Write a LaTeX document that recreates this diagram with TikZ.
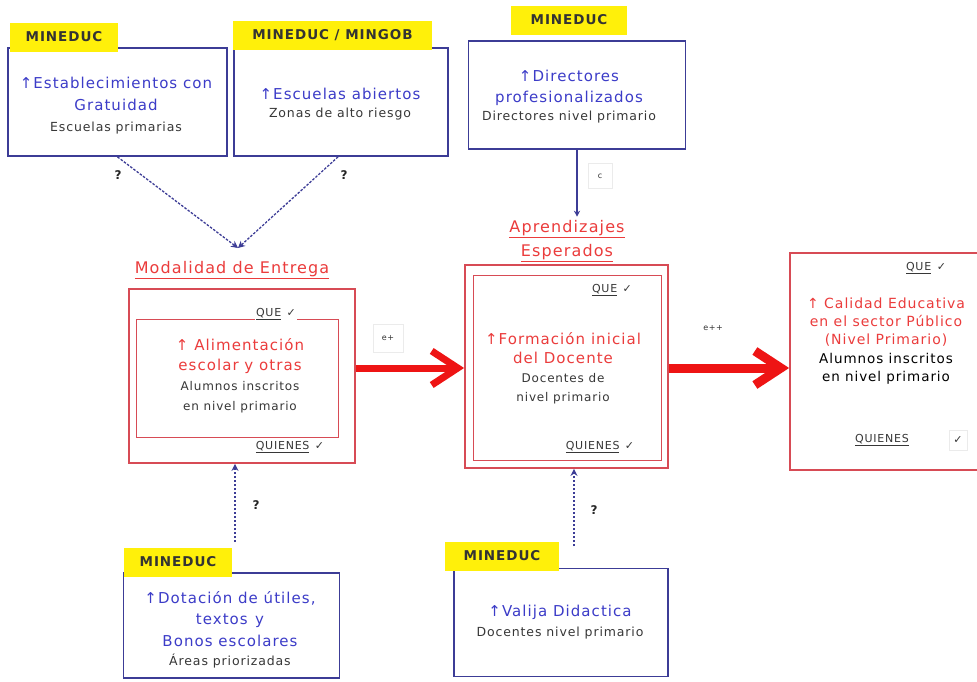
\documentclass[tikz,border=0pt]{standalone}
\usepackage{fontspec}
\setmainfont{DejaVu Sans}[LetterSpace=7]
\usetikzlibrary{arrows.meta}
\definecolor{navy}{RGB}{60,60,150}
\definecolor{bluetxt}{RGB}{60,60,200}
\definecolor{redbox}{RGB}{215,75,85}
\definecolor{redtxt}{RGB}{235,60,60}
\definecolor{arrowred}{RGB}{238,20,20}
\definecolor{yel}{RGB}{255,240,10}
\definecolor{graytxt}{RGB}{55,55,55}
\newcommand\subt[1]{{\color{graytxt}\fontsize{12.5}{12}\selectfont #1}}
\newcommand\subr[1]{{\color{graytxt}\fontsize{12}{12}\selectfont #1}}
\newcommand\chk{✓}
\tikzset{
  bluebox/.style={draw=navy, line width=1.8pt, fill=white, inner sep=0pt},
  bluetext/.style={align=center, text=bluetxt, font=\fontsize{15}{21.5}\selectfont, inner sep=0pt},
  tag/.style={fill=yel, font=\fontsize{13.5}{14}\selectfont\bfseries, text=black!80, inner sep=0pt,
    minimum height=29pt},
  redouter/.style={draw=redbox, line width=1.8pt, fill=white, inner sep=0pt},
  redinner/.style={draw=redbox, line width=0.8pt, inner sep=0pt},
  redtext/.style={align=center, text=redtxt, font=\fontsize{15}{20}\selectfont, inner sep=0pt},
  rtitle/.style={text=redtxt, font=\fontsize{16}{24}\selectfont, align=center},
  quetxt/.style={text=graytxt, font=\fontsize{11}{12}\selectfont, inner sep=1pt},
  qmark/.style={font=\fontsize{12}{14}\selectfont\bfseries, text=black!85},
  elabel/.style={font=\fontsize{8}{10}\selectfont, text=black!80, draw=black!8, line width=0.5pt,
    minimum width=30pt, minimum height=28pt, fill=white},
  dasharrow/.style={draw=navy, line width=1.3pt, dash pattern=on 2.5pt off 1.5pt, -{Stealth[length=7pt,width=7pt]}},
  solidarrow/.style={draw=navy, line width=1.3pt, -{Stealth[length=6pt,width=6pt]}},
  bigarrow/.style={draw=arrowred, line width=#1, -{Straight Barb[length=26pt,width=34pt,line width=#1]}},
}
\begin{document}
\begin{tikzpicture}[x=1pt,y=-1pt]
\useasboundingbox[fill=white] (0,0) rectangle (977,681);

% ---------- top blue boxes ----------
\node[bluebox, minimum width=219pt, minimum height=108pt] (b1) at (117.5,102) {};
\node[bluetext] (b1t) at (116,106)
  {↑Establecimientos con\\Gratuidad\\\subt{Escuelas primarias}};
\node[tag, minimum width=108pt] (t1) at (64,37) {MINEDUC};

\node[bluebox, minimum width=214pt, minimum height=108pt] (b2) at (341,102) {};
\node[bluetext] (b2t) at (340,104)
  {↑Escuelas abiertos\\[-3pt]\subt{Zonas de alto riesgo}};
\node[tag, minimum width=199pt] (t2) at (332.5,35) {MINEDUC / MINGOB};

\node[bluebox, minimum width=217pt, minimum height=108pt] (b3) at (577,95) {};
\node[bluetext] (b3t) at (569,97)
  {↑Directores\\[-1pt]profesionalizados\\[-3pt]\subt{Directores nivel primario}};
\node[tag, minimum width=116pt] (t3) at (569,20) {MINEDUC};

% ---------- red titles ----------
\node[rtitle] (tmod) at (232,270) {\underline{Modalidad de Entrega}};
\node[rtitle] (tapr) at (567,241) {\underline{Aprendizajes}\\\underline{Esperados}};

% ---------- Modalidad box ----------
\node[redouter, minimum width=226pt, minimum height=174pt] (mod) at (242,376) {};
\node[redinner, minimum width=202pt, minimum height=118pt] (modin) at (237,378) {};
\node[redtext] (modtxt) at (240,376)
  {↑ Alimentación\\escolar y otras\\\subr{Alumnos inscritos}\\\subr{en nivel primario}};
\node[quetxt, fill=white] (mq) at (276,314) {\underline{QUE}\enspace\chk};
\node[quetxt] (mw) at (290,447) {\underline{QUIENES}\enspace\chk};

% ---------- Formacion box ----------
\node[redouter, minimum width=203pt, minimum height=203pt] (form) at (566.5,366.5) {};
\node[redinner, minimum width=188pt, minimum height=185pt] (formin) at (567,367.5) {};
\node[redtext, font=\fontsize{15}{19}\selectfont] (formtxt) at (563,368)
  {↑Formación inicial\\del Docente\\\subr{Docentes de}\\\subr{nivel primario}};
\node[quetxt] (fq) at (612,290) {\underline{QUE}\enspace\chk};
\node[quetxt] (fw) at (600,447) {\underline{QUIENES}\enspace\chk};

% ---------- Calidad box ----------
\node[redouter, minimum width=188pt, minimum height=217pt] (cal) at (884,361.5) {};
\node[redtext, font=\fontsize{14}{18.2}\selectfont] (caltxt) at (886,341)
  {↑ Calidad Educativa\\en el sector Público\\(Nivel Primario)\\
   {\color{black}\fontsize{13.5}{18.2}\selectfont Alumnos inscritos}\\{\color{black}\fontsize{13.5}{18.2}\selectfont en nivel primario}};
\node[quetxt] (cq) at (926,268) {\underline{QUE}\enspace\chk};
\node[quetxt] (cw) at (882,440) {\underline{QUIENES}};
\node[quetxt, draw=black!8, minimum width=18pt, minimum height=20pt] (cwk) at (958,440) {\chk};

% ---------- bottom blue boxes ----------
\node[bluebox, minimum width=216pt, minimum height=105pt] (b4) at (231.5,625.5) {};
\node[bluetext] (b4t) at (230,630)
  {↑Dotación de útiles,\\textos\enspace y\\Bonos escolares\\[-2pt]\subt{Áreas priorizadas}};
\node[tag, minimum width=108pt] (t4) at (178,562) {MINEDUC};

\node[bluebox, minimum width=214pt, minimum height=108pt] (b5) at (561,622.5) {};
\node[bluetext] (b5t) at (560,622)
  {↑Valija Didactica\\[-2pt]\subt{Docentes nivel primario}};
\node[tag, minimum width=114pt] (t5) at (502,556) {MINEDUC};

% ---------- connectors ----------
\coordinate (tgt) at (238,248);
\draw[dasharrow] (b1.south) -- (tgt);
\draw[dasharrow] ([xshift=-3pt]b2.south) -- (tgt);
\node[qmark] (q1) at (118,175) {?};
\node[qmark] (q2) at (344,175) {?};

\draw[solidarrow] (b3.south) -- (b3.south |- tapr.north);
\node[elabel, minimum width=24pt, minimum height=25pt] (lc) at (600,176) {c};

\draw[bigarrow=7pt] (mod.east |- 0,368) -- (form.west |- 0,368);
\node[elabel] (le1) at (388,338) {e+};
\draw[bigarrow=9pt] (form.east |- 0,368) -- (cal.west |- 0,368);
\node[elabel, draw=none] (le2) at (713,328) {e++};

\coordinate (d4) at (235,542);
\draw[dasharrow] (d4) -- (d4 |- mod.south);
\node[qmark] (q3) at (256,505) {?};
\coordinate (d5) at (574,546);
\draw[dasharrow] (d5) -- (d5 |- form.south);
\node[qmark] (q4) at (594,510) {?};
\end{tikzpicture}
\end{document}
